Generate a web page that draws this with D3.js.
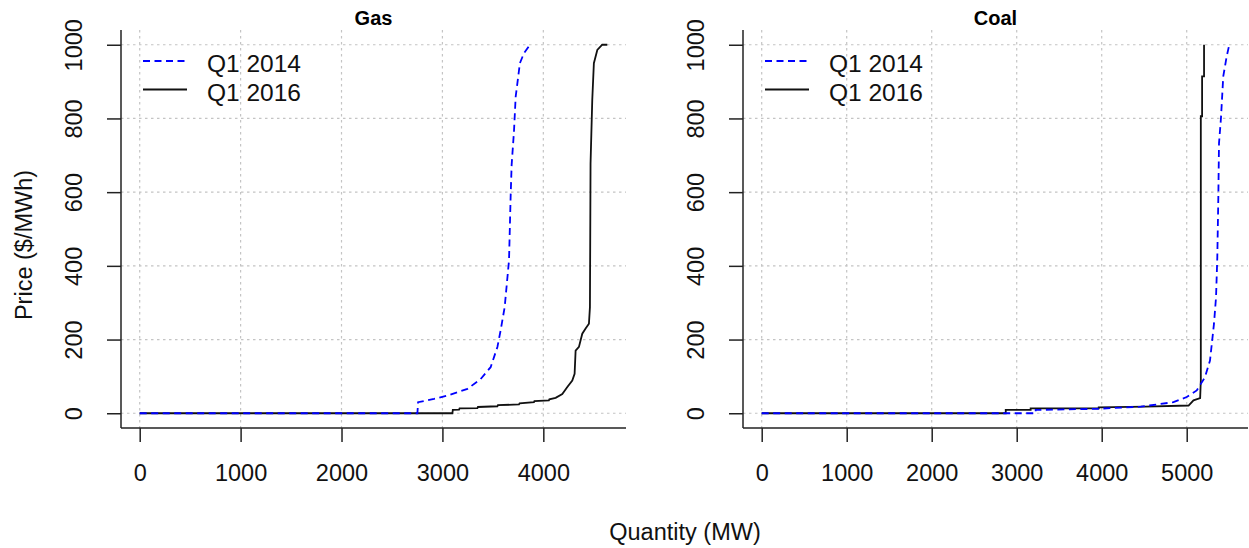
<!DOCTYPE html>
<html>
<head>
<meta charset="utf-8">
<script src="https://d3js.org/d3.v7.min.js"></script>
<style>
  body { margin: 0; background: #fff; }
  svg { display: block; font-family: "Liberation Sans", Arial, sans-serif; }
</style>
</head>
<body>
<div id="plot"></div>
<script>
var seriesNames = ["Q1 2014", "Q1 2016"];
var panelTitles = ["Gas", "Coal"];
var yTicks = [0, 200, 400, 600, 800, 1000];
var gasTicks = [0, 1000, 2000, 3000, 4000];
var coalTicks = [0, 1000, 2000, 3000, 4000, 5000];

// [quantity MW, price $/MWh]
var gas2014 = [[0,0],[2752,0],[2759,30],[2917,39],[3050,48],[3248,66],[3379,93],[3478,125],[3545,180],
    [3577,225],[3617,288],[3660,415],[3676,587],[3686,674],[3709,764],[3726,859],[3768,950],[3808,977],[3868,1000]];
var gas2016 = [[0,0],[3099,0],[3103,9],[3165,10],[3170,13],[3347,14],[3352,17],[3545,19],[3550,22],[3759,24],
    [3765,27],[3907,30],[3912,33],[4055,35],[4060,38],[4122,42],[4188,52],[4238,71],[4287,89],[4310,107],
    [4320,170],[4353,180],[4386,216],[4419,230],[4452,243],[4462,288],[4468,678],[4485,850],[4501,950],
    [4535,986],[4584,1000],[4634,1000]];
var coal2014 = [[0,0],[3223,0],[3223,9],[3946,12],[4460,18],[4844,30],[5000,44],[5118,62],[5215,98],
    [5274,143],[5321,243],[5345,315],[5360,424],[5372,587],[5380,733],[5403,801],[5430,914],[5470,968],[5501,1000]];
var coal2016 = [[0,0],[2871,0],[2871,9],[3164,9],[3164,13],[3965,13],[3965,16],[4514,18],[5022,21],
    [5080,35],[5158,41],[5166,89],[5166,806],[5181,806],[5181,914],[5204,914],[5204,1000]];

var W = 1249, H = 548;
var plotTop = 30, plotBottom = 428;
var fontSize = 23.5;
var axisCol = "#222";

var svg = d3.select("#plot").append("svg")
    .attr("width", W)
    .attr("height", H);

svg.append("rect").attr("width", W).attr("height", H).attr("fill", "#fff");

// R style range: data extent padded by 4%
function rRange(ext) {
    var pad = (ext[1] - ext[0]) * 0.04;
    return [ext[0] - pad, ext[1] + pad];
}

var yScale = d3.scaleLinear()
    .domain(rRange([0, 1000]))
    .range([plotBottom, plotTop]);

function drawPanel(left, right, title, s2014, s2016, xTicks) {
    var all = s2014.concat(s2016);
    var xScale = d3.scaleLinear()
        .domain(rRange(d3.extent(all, function(d) { return d[0]; })))
        .range([left, right]);

    var g = svg.append("g");

    // grid
    g.selectAll(".vgrid").data(xTicks).enter().append("line")
        .attr("x1", function(d) { return xScale(d); })
        .attr("x2", function(d) { return xScale(d); })
        .attr("y1", plotTop).attr("y2", plotBottom)
        .attr("stroke", "#c4c4c4").attr("stroke-width", 1.2).attr("stroke-dasharray", "2.5,3.5");
    g.selectAll(".hgrid").data(yTicks).enter().append("line")
        .attr("x1", left).attr("x2", right)
        .attr("y1", function(d) { return yScale(d); })
        .attr("y2", function(d) { return yScale(d); })
        .attr("stroke", "#c4c4c4").attr("stroke-width", 1.2).attr("stroke-dasharray", "2.5,3.5");

    var line = d3.line()
        .x(function(d) { return xScale(d[0]); })
        .y(function(d) { return yScale(d[1]); });

    g.append("path").datum(s2016)
        .attr("d", line)
        .attr("fill", "none")
        .attr("stroke", "#111")
        .attr("stroke-width", 1.8);
    g.append("path").datum(s2014)
        .attr("d", line)
        .attr("fill", "none")
        .attr("stroke", "#0000ff")
        .attr("stroke-width", 1.8)
        .attr("stroke-dasharray", "7,4.5");

    // x axis
    var xAxis = d3.axisBottom(xScale).tickValues(xTicks).tickSize(14).tickPadding(22).tickFormat(d3.format("d"));
    var gx = g.append("g").attr("transform", "translate(0," + plotBottom + ")").call(xAxis);
    gx.select(".domain").attr("d", "M" + left + ",0H" + right).attr("stroke", axisCol).attr("stroke-width", 1.5);
    gx.selectAll(".tick line").attr("stroke", axisCol).attr("stroke-width", 1.5);
    gx.selectAll(".tick text").attr("font-size", fontSize).attr("fill", "#111")
        .attr("font-family", "Liberation Sans, Arial, sans-serif");

    // y axis
    var yAxis = d3.axisLeft(yScale).tickValues(yTicks).tickSize(14).tickFormat(d3.format("d"));
    var gy = g.append("g").attr("transform", "translate(" + left + ",0)").call(yAxis);
    gy.select(".domain").attr("d", "M0," + plotTop + "V" + plotBottom).attr("stroke", axisCol).attr("stroke-width", 1.5);
    gy.selectAll(".tick line").attr("stroke", axisCol).attr("stroke-width", 1.5);
    gy.selectAll(".tick text")
        .attr("x", null).attr("dy", null)
        .attr("transform", "translate(-39,0) rotate(-90)")
        .attr("text-anchor", "middle")
        .attr("font-size", fontSize).attr("fill", "#111")
        .attr("font-family", "Liberation Sans, Arial, sans-serif");

    // title
    g.append("text")
        .attr("x", (left + right) / 2)
        .attr("y", 25)
        .attr("text-anchor", "middle")
        .attr("font-size", 20)
        .attr("font-weight", "bold")
        .text(title);

    // legend
    var legend = g.append("g").selectAll("g")
        .data(seriesNames).enter().append("g")
        .attr("transform", function(d, i) { return "translate(" + left + "," + (61 + i * 28.5) + ")"; });
    legend.append("line")
        .attr("x1", 22).attr("x2", 66)
        .attr("stroke", function(d, i) { return i == 0 ? "#0000ff" : "#111"; })
        .attr("stroke-width", 1.8)
        .attr("stroke-dasharray", function(d, i) { return i == 0 ? "7,4.5" : null; });
    legend.append("text")
        .attr("x", 86).attr("y", 11)
        .attr("font-size", 24.5)
        .attr("fill", "#111")
        .text(function(d) { return d; });
}

drawPanel(121, 626, panelTitles[0], gas2014, gas2016, gasTicks);
drawPanel(743, 1248, panelTitles[1], coal2014, coal2016, coalTicks);

// Outer axis titles
svg.append("text")
    .attr("transform", "translate(32,245) rotate(-90)")
    .attr("text-anchor", "middle")
    .attr("font-size", fontSize)
    .attr("fill", "#111")
    .text("Price ($/MWh)");

svg.append("text")
    .attr("x", 685)
    .attr("y", 540)
    .attr("text-anchor", "middle")
    .attr("font-size", fontSize)
    .attr("fill", "#111")
    .text("Quantity (MW)");
</script>
</body>
</html>
